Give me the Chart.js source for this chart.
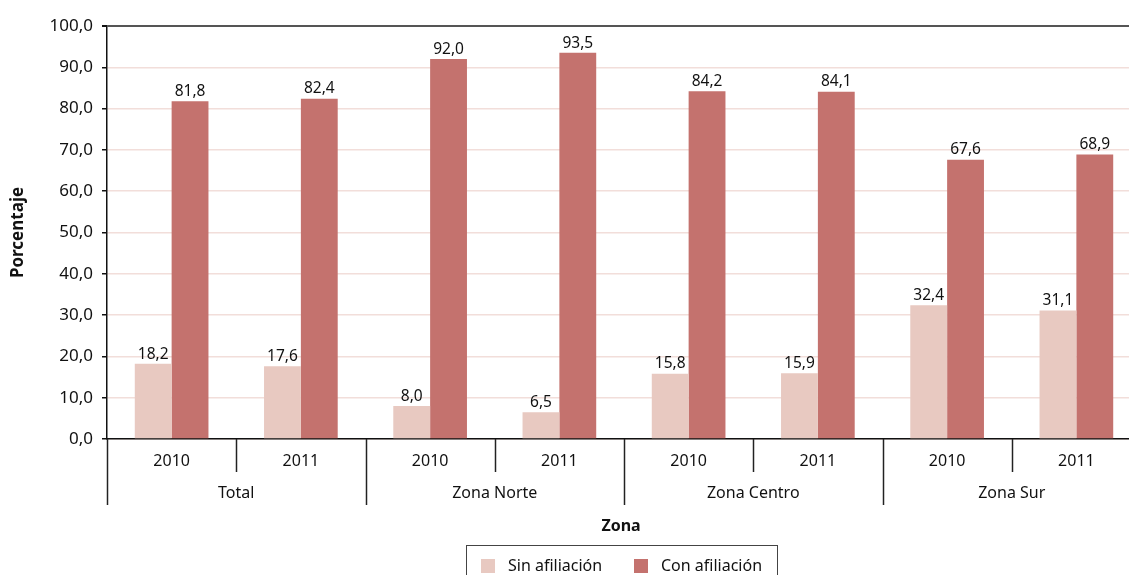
<!DOCTYPE html>
<html lang="es">
<head>
<meta charset="utf-8">
<title>Afiliación por zona</title>
<script src="https://cdn.jsdelivr.net/npm/chart.js@4.4.1/dist/chart.umd.min.js"></script>
<style>
  html, body { margin: 0; padding: 0; background: #fff; overflow: hidden; }
  #wrap { width: 1150px; height: 600px; }
</style>
</head>
<body>
<div id="wrap"><canvas id="grafico" width="1150" height="600"></canvas></div>
<script>
// datos del grafico
const zonas = ["Total", "Zona Norte", "Zona Centro", "Zona Sur"];
const anios = ["2010", "2011", "2010", "2011", "2010", "2011", "2010", "2011"];
const sinAfiliacion = [18.2, 17.6, 8.0, 6.5, 15.8, 15.9, 32.4, 31.1];
const conAfiliacion = [81.8, 82.4, 92.0, 93.5, 84.2, 84.1, 67.6, 68.9];
const yTicks = [0, 10, 20, 30, 40, 50, 60, 70, 80, 90, 100];

const FUENTE = "'Noto Sans', 'Open Sans', sans-serif";
const COLOR_SIN = "#E8C9C1";
const COLOR_CON = "#C4726E";

// formato con coma decimal
function fmt(v){
  return Number(v).toFixed(1).replace(".", ",");
}

// etiquetas de valor sobre cada barra
const etiquetasValor = {
  id: "etiquetasValor",
  afterDatasetsDraw(chart){
    const ctx = chart.ctx;
    ctx.save();
    ctx.font = "15.5px " + FUENTE;
    ctx.fillStyle = "#111";
    ctx.textAlign = "center";
    ctx.textBaseline = "bottom";
    chart.data.datasets.forEach((ds, i) => {
      chart.getDatasetMeta(i).data.forEach((bar, j) => {
        ctx.fillText(fmt(ds.data[j]), bar.x, bar.y - 2);
      });
    });
    ctx.restore();
  }
};

// eje x en dos niveles (año / zona), titulo y leyenda con marco
const ejeZonas = {
  id: "ejeZonas",
  afterDraw(chart){
    const ctx = chart.ctx;
    const x = chart.scales.x;
    const area = chart.chartArea;
    const base = area.bottom;
    const ancho = (x.right - x.left) / anios.length;
    ctx.save();

    // separadores verticales
    ctx.strokeStyle = "#222";
    ctx.lineWidth = 1.5;
    for (let i = 0; i <= anios.length; i++) {
      const px = Math.round(x.left + i * ancho) + 0.5;
      ctx.beginPath();
      ctx.moveTo(px, base);
      ctx.lineTo(px, base + (i % 2 === 0 ? 66 : 33));
      ctx.stroke();
    }

    // nombres de zona
    ctx.font = "16px " + FUENTE;
    ctx.fillStyle = "#111";
    ctx.textAlign = "center";
    ctx.textBaseline = "middle";
    zonas.forEach((z, k) => {
      const cx = (x.getPixelForValue(2 * k) + x.getPixelForValue(2 * k + 1)) / 2;
      ctx.fillText(z, cx, base + 54);
    });

    // titulo del eje x
    const centro = (area.left + area.right) / 2 - 3;
    ctx.font = "bold 16px " + FUENTE;
    ctx.fillText("Zona", centro, base + 87);

    // leyenda
    const top = base + 106;
    const caja = { left: 466, right: 777 };
    ctx.strokeStyle = "#444";
    ctx.lineWidth = 1;
    ctx.strokeRect(caja.left + 0.5, top + 0.5, caja.right - caja.left, 36);
    ctx.font = "16px " + FUENTE;
    ctx.textAlign = "left";
    const items = [
      { x: 481, txt: chart.data.datasets[0].label, color: COLOR_SIN },
      { x: 634, txt: chart.data.datasets[1].label, color: COLOR_CON }
    ];
    items.forEach(it => {
      ctx.fillStyle = it.color;
      ctx.fillRect(it.x, top + 14, 14, 14);
      ctx.fillStyle = "#111";
      ctx.fillText(it.txt, it.x + 27, top + 21);
    });
    ctx.restore();
  }
};

new Chart(document.getElementById("grafico"), {
  type: "bar",
  data: {
    labels: anios,
    datasets: [
      { label: "Sin afiliación", data: sinAfiliacion, backgroundColor: COLOR_SIN },
      { label: "Con afiliación", data: conAfiliacion, backgroundColor: COLOR_CON }
    ]
  },
  options: {
    responsive: false,
    animation: false,
    layout: { padding: { top: 26, right: 9, bottom: 55, left: 0 } },
    datasets: { bar: { categoryPercentage: 0.57, barPercentage: 1.0 } },
    plugins: {
      legend: { display: false },
      tooltip: { enabled: false }
    },
    scales: {
      x: {
        grid: { display: false, drawTicks: false },
        border: { color: "#111", width: 1.5 },
        ticks: { color: "#111", font: { family: FUENTE, size: 16 }, padding: 13, maxRotation: 0 },
        afterFit(scale){ scale.height = 106; }
      },
      y: {
        min: 0,
        max: 100,
        afterBuildTicks(scale){ scale.ticks = yTicks.map(v => ({ value: v })); },
        grid: {
          color: ctx => (ctx.tick && ctx.tick.value === 100) ? "#555" : "#F2DEDA",
          lineWidth: ctx => (ctx.tick && ctx.tick.value === 100) ? 2 : 1.5,
          tickColor: "#111",
          tickLength: 5
        },
        border: { color: "#111", width: 1.5 },
        ticks: {
          color: "#111",
          font: { family: FUENTE, size: 17 },
          padding: 9,
          callback: v => fmt(v)
        },
        title: {
          display: true,
          text: "Porcentaje",
          color: "#111",
          font: { family: FUENTE, size: 17, weight: "bold" },
          padding: { top: 8, bottom: 0 }
        },
        afterFit(scale){ scale.width = 107; }
      }
    }
  },
  plugins: [etiquetasValor, ejeZonas]
});
</script>
</body>
</html>
